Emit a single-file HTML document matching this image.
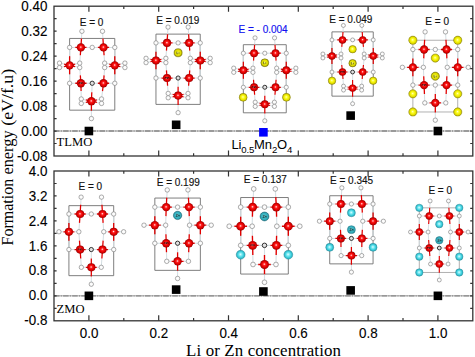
<!DOCTYPE html><html><head><meta charset="utf-8"><style>html,body{margin:0;padding:0;background:#fff;overflow:hidden;}svg{display:block;}</style></head><body><svg width="475" height="357" viewBox="0 0 475 357">
<defs>
<radialGradient id="gMn" cx="0.5" cy="0.5" r="0.5" fx="0.48" fy="0.46">
 <stop offset="0" stop-color="#fff0f0"/><stop offset="0.12" stop-color="#ff9a9a"/><stop offset="0.3" stop-color="#ff2020"/>
 <stop offset="0.65" stop-color="#e40000"/><stop offset="0.88" stop-color="#bc0000"/><stop offset="1" stop-color="#8a0000"/></radialGradient>
<radialGradient id="gO" cx="0.5" cy="0.5" r="0.5">
 <stop offset="0" stop-color="#ffffff"/><stop offset="0.6" stop-color="#fafafa"/><stop offset="1" stop-color="#dcdcdc"/></radialGradient>
<radialGradient id="gLi" cx="0.5" cy="0.5" r="0.5" fx="0.47" fy="0.45">
 <stop offset="0" stop-color="#ffffd0"/><stop offset="0.25" stop-color="#ffff40"/>
 <stop offset="0.6" stop-color="#f0ee00"/><stop offset="0.85" stop-color="#d8d200"/><stop offset="1" stop-color="#9a9400"/></radialGradient>
<radialGradient id="gLl" cx="0.5" cy="0.5" r="0.5" fx="0.47" fy="0.45">
 <stop offset="0" stop-color="#f0f080"/><stop offset="0.3" stop-color="#ecea10"/>
 <stop offset="0.7" stop-color="#dedc00"/><stop offset="0.88" stop-color="#b8b400"/><stop offset="1" stop-color="#807a00"/></radialGradient>
<radialGradient id="gZn" cx="0.5" cy="0.5" r="0.5" fx="0.47" fy="0.45">
 <stop offset="0" stop-color="#e8ffff"/><stop offset="0.25" stop-color="#90f0f8"/>
 <stop offset="0.6" stop-color="#48d6e2"/><stop offset="0.85" stop-color="#2cbccc"/><stop offset="1" stop-color="#14909e"/></radialGradient>
<radialGradient id="gZd" cx="0.5" cy="0.5" r="0.5" fx="0.45" fy="0.42">
 <stop offset="0" stop-color="#b0f4f8"/><stop offset="0.3" stop-color="#48c0cc"/>
 <stop offset="0.8" stop-color="#30a8b6"/><stop offset="1" stop-color="#187888"/></radialGradient>
</defs>
<rect width="475" height="357" fill="#fff"/>
<g><path d="M69.61 38.44H114.79M69.61 38.44V110.16H114.79V38.44" fill="none" stroke="#707070" stroke-width="0.9"/><path d="M81.46 38.52L81.92 31.26M75.26 47.40L69.61 47.40M86.55 47.40L92.20 47.40M80.32 55.24L79.74 63.09M102.94 38.52L102.48 31.26M109.14 47.40L114.79 47.40M97.85 47.40L92.20 47.40M104.08 55.24L104.66 63.09M69.61 56.36L69.61 47.40M69.61 74.29L69.61 83.26M64.04 64.10L59.48 63.09M64.04 66.56L59.48 67.57M75.18 64.10L79.74 63.09M75.18 66.56L79.74 67.57M114.79 56.36L114.79 47.40M114.79 74.29L114.79 83.26M109.22 64.10L104.66 63.09M109.22 66.56L104.66 67.57M120.36 64.10L124.92 63.09M120.36 66.56L124.92 67.57M75.26 83.26L69.61 83.26M86.55 83.26L92.20 83.26M80.32 75.42L79.74 67.57M81.09 91.10L81.27 98.95M109.14 83.26L114.79 83.26M97.85 83.26L92.20 83.26M104.08 75.42L104.66 67.57M102.51 91.10L101.53 98.95M91.80 92.22L92.20 83.26M91.40 110.76L91.40 118.58M85.83 99.96L81.27 98.95M85.83 102.42L81.27 103.43M96.97 99.96L101.53 98.95M96.97 102.42L101.53 103.43" stroke="#d4dee2" stroke-width="1.05" fill="none"/><path d="M80.90 47.40L81.46 38.52M80.90 47.40L75.26 47.40M80.90 47.40L86.55 47.40M80.90 47.40L80.32 55.24M103.50 47.40L102.94 38.52M103.50 47.40L109.14 47.40M103.50 47.40L97.85 47.40M103.50 47.40L104.08 55.24M69.61 65.33L69.61 56.36M69.61 65.33L69.61 74.29M69.61 65.33L64.04 64.10M69.61 65.33L64.04 66.56M69.61 65.33L75.18 64.10M69.61 65.33L75.18 66.56M114.79 65.33L114.79 56.36M114.79 65.33L114.79 74.29M114.79 65.33L109.22 64.10M114.79 65.33L109.22 66.56M114.79 65.33L120.36 64.10M114.79 65.33L120.36 66.56M80.90 83.26L75.26 83.26M80.90 83.26L86.55 83.26M80.90 83.26L80.32 75.42M80.90 83.26L81.09 91.10M103.50 83.26L109.14 83.26M103.50 83.26L97.85 83.26M103.50 83.26L104.08 75.42M103.50 83.26L102.51 91.10M91.40 101.19L91.80 92.22M91.40 101.19L91.40 110.76M91.40 101.19L85.83 99.96M91.40 101.19L85.83 102.42M91.40 101.19L96.97 99.96M91.40 101.19L96.97 102.42" stroke="#e00000" stroke-width="1.29" fill="none"/><circle cx="81.92" cy="31.26" r="2.24" fill="url(#gO)" stroke="#7a7a7a" stroke-width="0.55"/><circle cx="102.48" cy="31.26" r="2.24" fill="url(#gO)" stroke="#7a7a7a" stroke-width="0.55"/><circle cx="69.61" cy="47.40" r="2.24" fill="url(#gO)" stroke="#7a7a7a" stroke-width="0.55"/><circle cx="92.20" cy="47.40" r="2.24" fill="url(#gO)" stroke="#7a7a7a" stroke-width="0.55"/><circle cx="114.79" cy="47.40" r="2.24" fill="url(#gO)" stroke="#7a7a7a" stroke-width="0.55"/><circle cx="69.61" cy="83.26" r="2.24" fill="url(#gO)" stroke="#7a7a7a" stroke-width="0.55"/><circle cx="114.79" cy="83.26" r="2.24" fill="url(#gO)" stroke="#7a7a7a" stroke-width="0.55"/><circle cx="91.40" cy="118.58" r="2.24" fill="url(#gO)" stroke="#7a7a7a" stroke-width="0.55"/><circle cx="59.48" cy="63.09" r="2.24" fill="url(#gO)" stroke="#7a7a7a" stroke-width="0.55"/><circle cx="59.48" cy="67.57" r="2.24" fill="url(#gO)" stroke="#7a7a7a" stroke-width="0.55"/><circle cx="79.74" cy="63.09" r="2.24" fill="url(#gO)" stroke="#7a7a7a" stroke-width="0.55"/><circle cx="79.74" cy="67.57" r="2.24" fill="url(#gO)" stroke="#7a7a7a" stroke-width="0.55"/><circle cx="104.66" cy="63.09" r="2.24" fill="url(#gO)" stroke="#7a7a7a" stroke-width="0.55"/><circle cx="104.66" cy="67.57" r="2.24" fill="url(#gO)" stroke="#7a7a7a" stroke-width="0.55"/><circle cx="124.92" cy="63.09" r="2.24" fill="url(#gO)" stroke="#7a7a7a" stroke-width="0.55"/><circle cx="124.92" cy="67.57" r="2.24" fill="url(#gO)" stroke="#7a7a7a" stroke-width="0.55"/><circle cx="81.27" cy="98.95" r="2.24" fill="url(#gO)" stroke="#7a7a7a" stroke-width="0.55"/><circle cx="81.27" cy="103.43" r="2.24" fill="url(#gO)" stroke="#7a7a7a" stroke-width="0.55"/><circle cx="101.53" cy="98.95" r="2.24" fill="url(#gO)" stroke="#7a7a7a" stroke-width="0.55"/><circle cx="101.53" cy="103.43" r="2.24" fill="url(#gO)" stroke="#7a7a7a" stroke-width="0.55"/><circle cx="92.20" cy="83.26" r="2.13" fill="#e0e0e0" stroke="#202020" stroke-width="0.9"/><circle cx="80.90" cy="47.40" r="4.16" fill="url(#gMn)"/><circle cx="103.50" cy="47.40" r="4.16" fill="url(#gMn)"/><circle cx="69.61" cy="65.33" r="4.16" fill="url(#gMn)"/><circle cx="114.79" cy="65.33" r="4.16" fill="url(#gMn)"/><circle cx="80.90" cy="83.26" r="4.16" fill="url(#gMn)"/><circle cx="103.50" cy="83.26" r="4.16" fill="url(#gMn)"/><circle cx="91.40" cy="101.19" r="4.16" fill="url(#gMn)"/><path d="M78.70 84.06l0.7 -1.8 0.7 1.2 0.7 -1.2 0.7 1.8M81.30 84.06v-1.4h1.6v1.4" stroke="#300000" stroke-width="0.6" fill="none"/></g>
<g><path d="M155.96 34.11H200.24M155.96 34.11V104.40H200.24V34.11" fill="none" stroke="#707070" stroke-width="0.9"/><path d="M167.58 34.20L168.03 27.09M161.50 42.90L155.96 42.90M172.57 42.90L178.10 42.90M166.46 50.59L165.89 58.27M188.62 34.20L188.17 27.09M194.70 42.90L200.24 42.90M183.63 42.90L178.10 42.90M189.74 50.59L190.31 58.27M155.96 51.69L155.96 42.90M155.96 69.25L155.96 78.04M150.50 59.26L146.03 58.27M150.50 61.68L146.03 62.67M161.42 59.26L165.89 58.27M161.42 61.68L165.89 62.67M200.24 51.69L200.24 42.90M200.24 69.25L200.24 78.04M194.78 59.26L190.31 58.27M194.78 61.68L190.31 62.67M205.70 59.26L210.17 58.27M205.70 61.68L210.17 62.67M161.50 78.04L155.96 78.04M172.57 78.04L178.10 78.04M166.46 70.35L165.89 62.67M167.60 85.73L168.17 93.41M194.70 78.04L200.24 78.04M183.63 78.04L178.10 78.04M189.74 70.35L190.31 62.67M188.60 85.73L188.03 93.41M178.10 86.82L178.10 78.04M178.10 104.98L178.10 112.65M172.64 94.40L168.17 93.41M172.64 96.82L168.17 97.81M183.56 94.40L188.03 93.41M183.56 96.82L188.03 97.81" stroke="#d4dee2" stroke-width="1.03" fill="none"/><path d="M167.03 42.90L167.58 34.20M167.03 42.90L161.50 42.90M167.03 42.90L172.57 42.90M167.03 42.90L166.46 50.59M189.17 42.90L188.62 34.20M189.17 42.90L194.70 42.90M189.17 42.90L183.63 42.90M189.17 42.90L189.74 50.59M155.96 60.47L155.96 51.69M155.96 60.47L155.96 69.25M155.96 60.47L150.50 59.26M155.96 60.47L150.50 61.68M155.96 60.47L161.42 59.26M155.96 60.47L161.42 61.68M200.24 60.47L200.24 51.69M200.24 60.47L200.24 69.25M200.24 60.47L194.78 59.26M200.24 60.47L194.78 61.68M200.24 60.47L205.70 59.26M200.24 60.47L205.70 61.68M167.03 78.04L161.50 78.04M167.03 78.04L172.57 78.04M167.03 78.04L166.46 70.35M167.03 78.04L167.60 85.73M189.17 78.04L194.70 78.04M189.17 78.04L183.63 78.04M189.17 78.04L189.74 70.35M189.17 78.04L188.60 85.73M178.10 95.61L178.10 86.82M178.10 95.61L178.10 104.98M178.10 95.61L172.64 94.40M178.10 95.61L172.64 96.82M178.10 95.61L183.56 94.40M178.10 95.61L183.56 96.82" stroke="#e00000" stroke-width="1.27" fill="none"/><circle cx="168.03" cy="27.09" r="2.20" fill="url(#gO)" stroke="#7a7a7a" stroke-width="0.55"/><circle cx="188.17" cy="27.09" r="2.20" fill="url(#gO)" stroke="#7a7a7a" stroke-width="0.55"/><circle cx="155.96" cy="42.90" r="2.20" fill="url(#gO)" stroke="#7a7a7a" stroke-width="0.55"/><circle cx="178.10" cy="42.90" r="2.20" fill="url(#gO)" stroke="#7a7a7a" stroke-width="0.55"/><circle cx="200.24" cy="42.90" r="2.20" fill="url(#gO)" stroke="#7a7a7a" stroke-width="0.55"/><circle cx="155.96" cy="78.04" r="2.20" fill="url(#gO)" stroke="#7a7a7a" stroke-width="0.55"/><circle cx="200.24" cy="78.04" r="2.20" fill="url(#gO)" stroke="#7a7a7a" stroke-width="0.55"/><circle cx="178.10" cy="112.65" r="2.20" fill="url(#gO)" stroke="#7a7a7a" stroke-width="0.55"/><circle cx="146.03" cy="58.27" r="2.20" fill="url(#gO)" stroke="#7a7a7a" stroke-width="0.55"/><circle cx="146.03" cy="62.67" r="2.20" fill="url(#gO)" stroke="#7a7a7a" stroke-width="0.55"/><circle cx="165.89" cy="58.27" r="2.20" fill="url(#gO)" stroke="#7a7a7a" stroke-width="0.55"/><circle cx="165.89" cy="62.67" r="2.20" fill="url(#gO)" stroke="#7a7a7a" stroke-width="0.55"/><circle cx="190.31" cy="58.27" r="2.20" fill="url(#gO)" stroke="#7a7a7a" stroke-width="0.55"/><circle cx="190.31" cy="62.67" r="2.20" fill="url(#gO)" stroke="#7a7a7a" stroke-width="0.55"/><circle cx="210.17" cy="58.27" r="2.20" fill="url(#gO)" stroke="#7a7a7a" stroke-width="0.55"/><circle cx="210.17" cy="62.67" r="2.20" fill="url(#gO)" stroke="#7a7a7a" stroke-width="0.55"/><circle cx="168.17" cy="93.41" r="2.20" fill="url(#gO)" stroke="#7a7a7a" stroke-width="0.55"/><circle cx="168.17" cy="97.81" r="2.20" fill="url(#gO)" stroke="#7a7a7a" stroke-width="0.55"/><circle cx="188.03" cy="93.41" r="2.20" fill="url(#gO)" stroke="#7a7a7a" stroke-width="0.55"/><circle cx="188.03" cy="97.81" r="2.20" fill="url(#gO)" stroke="#7a7a7a" stroke-width="0.55"/><circle cx="178.10" cy="78.04" r="2.09" fill="#e0e0e0" stroke="#202020" stroke-width="0.9"/><circle cx="167.03" cy="42.90" r="4.08" fill="url(#gMn)"/><circle cx="189.17" cy="42.90" r="4.08" fill="url(#gMn)"/><circle cx="155.96" cy="60.47" r="4.08" fill="url(#gMn)"/><circle cx="200.24" cy="60.47" r="4.08" fill="url(#gMn)"/><circle cx="167.03" cy="78.04" r="4.08" fill="url(#gMn)"/><circle cx="189.17" cy="78.04" r="4.08" fill="url(#gMn)"/><circle cx="178.10" cy="95.61" r="4.08" fill="url(#gMn)"/><path d="M164.83 78.84l0.7 -1.8 0.7 1.2 0.7 -1.2 0.7 1.8M167.43 78.84v-1.4h1.6v1.4" stroke="#300000" stroke-width="0.6" fill="none"/><circle cx="178.10" cy="52.74" r="4.08" fill="url(#gLl)" stroke="#7a7400" stroke-width="0.5"/><path d="M176.80 51.54v2.3h1M179.00 52.34v1.5" stroke="#5a5a30" stroke-width="0.7" fill="none"/></g>
<g><path d="M243.34 44.69H286.26M243.34 44.69V112.81H286.26V44.69" fill="none" stroke="#707070" stroke-width="0.9"/><path d="M254.60 44.77L255.04 37.87M248.71 53.20L243.34 53.20M259.44 53.20L264.80 53.20M253.52 60.65L252.96 68.10M275.00 44.77L274.56 37.87M280.89 53.20L286.26 53.20M270.16 53.20L264.80 53.20M276.08 60.65L276.64 68.10M243.34 61.72L243.34 53.20M243.34 78.75L243.34 87.26M238.05 69.06L233.72 68.10M238.05 71.40L233.72 72.36M248.63 69.06L252.96 68.10M248.63 71.40L252.96 72.36M286.26 61.72L286.26 53.20M286.26 78.75L286.26 87.26M280.97 69.06L276.64 68.10M280.97 71.40L276.64 72.36M291.55 69.06L295.88 68.10M291.55 71.40L295.88 72.36M248.71 87.26L243.34 87.26M259.44 87.26L264.80 87.26M253.52 79.81L252.96 72.36M254.62 94.71L255.18 102.16M280.89 87.26L286.26 87.26M270.16 87.26L264.80 87.26M276.08 79.81L276.64 72.36M274.98 94.71L274.42 102.16M264.80 95.78L264.80 87.26M264.80 113.38L264.80 120.81M259.51 103.12L255.18 102.16M259.51 105.46L255.18 106.42M270.09 103.12L274.42 102.16M270.09 105.46L274.42 106.42" stroke="#d4dee2" stroke-width="1.00" fill="none"/><path d="M254.07 53.20L254.60 44.77M254.07 53.20L248.71 53.20M254.07 53.20L259.44 53.20M254.07 53.20L253.52 60.65M275.53 53.20L275.00 44.77M275.53 53.20L280.89 53.20M275.53 53.20L270.16 53.20M275.53 53.20L276.08 60.65M243.34 70.23L243.34 61.72M243.34 70.23L243.34 78.75M243.34 70.23L238.05 69.06M243.34 70.23L238.05 71.40M243.34 70.23L248.63 69.06M243.34 70.23L248.63 71.40M286.26 70.23L286.26 61.72M286.26 70.23L286.26 78.75M286.26 70.23L280.97 69.06M286.26 70.23L280.97 71.40M286.26 70.23L291.55 69.06M286.26 70.23L291.55 71.40M254.07 87.26L248.71 87.26M254.07 87.26L259.44 87.26M254.07 87.26L253.52 79.81M254.07 87.26L254.62 94.71M275.53 87.26L280.89 87.26M275.53 87.26L270.16 87.26M275.53 87.26L276.08 79.81M275.53 87.26L274.98 94.71M264.80 104.29L264.80 95.78M264.80 104.29L264.80 113.38M264.80 104.29L259.51 103.12M264.80 104.29L259.51 105.46M264.80 104.29L270.09 103.12M264.80 104.29L270.09 105.46" stroke="#e00000" stroke-width="1.23" fill="none"/><circle cx="255.04" cy="37.87" r="2.13" fill="url(#gO)" stroke="#7a7a7a" stroke-width="0.55"/><circle cx="274.56" cy="37.87" r="2.13" fill="url(#gO)" stroke="#7a7a7a" stroke-width="0.55"/><circle cx="243.34" cy="53.20" r="2.13" fill="url(#gO)" stroke="#7a7a7a" stroke-width="0.55"/><circle cx="264.80" cy="53.20" r="2.13" fill="url(#gO)" stroke="#7a7a7a" stroke-width="0.55"/><circle cx="286.26" cy="53.20" r="2.13" fill="url(#gO)" stroke="#7a7a7a" stroke-width="0.55"/><circle cx="243.34" cy="87.26" r="2.13" fill="url(#gO)" stroke="#7a7a7a" stroke-width="0.55"/><circle cx="286.26" cy="87.26" r="2.13" fill="url(#gO)" stroke="#7a7a7a" stroke-width="0.55"/><circle cx="264.80" cy="120.81" r="2.13" fill="url(#gO)" stroke="#7a7a7a" stroke-width="0.55"/><circle cx="233.72" cy="68.10" r="2.13" fill="url(#gO)" stroke="#7a7a7a" stroke-width="0.55"/><circle cx="233.72" cy="72.36" r="2.13" fill="url(#gO)" stroke="#7a7a7a" stroke-width="0.55"/><circle cx="252.96" cy="68.10" r="2.13" fill="url(#gO)" stroke="#7a7a7a" stroke-width="0.55"/><circle cx="252.96" cy="72.36" r="2.13" fill="url(#gO)" stroke="#7a7a7a" stroke-width="0.55"/><circle cx="276.64" cy="68.10" r="2.13" fill="url(#gO)" stroke="#7a7a7a" stroke-width="0.55"/><circle cx="276.64" cy="72.36" r="2.13" fill="url(#gO)" stroke="#7a7a7a" stroke-width="0.55"/><circle cx="295.88" cy="68.10" r="2.13" fill="url(#gO)" stroke="#7a7a7a" stroke-width="0.55"/><circle cx="295.88" cy="72.36" r="2.13" fill="url(#gO)" stroke="#7a7a7a" stroke-width="0.55"/><circle cx="255.18" cy="102.16" r="2.13" fill="url(#gO)" stroke="#7a7a7a" stroke-width="0.55"/><circle cx="255.18" cy="106.42" r="2.13" fill="url(#gO)" stroke="#7a7a7a" stroke-width="0.55"/><circle cx="274.42" cy="102.16" r="2.13" fill="url(#gO)" stroke="#7a7a7a" stroke-width="0.55"/><circle cx="274.42" cy="106.42" r="2.13" fill="url(#gO)" stroke="#7a7a7a" stroke-width="0.55"/><circle cx="264.80" cy="87.26" r="2.02" fill="#e0e0e0" stroke="#202020" stroke-width="0.9"/><circle cx="254.07" cy="53.20" r="3.95" fill="url(#gMn)"/><circle cx="275.53" cy="53.20" r="3.95" fill="url(#gMn)"/><circle cx="243.34" cy="70.23" r="3.95" fill="url(#gMn)"/><circle cx="286.26" cy="70.23" r="3.95" fill="url(#gMn)"/><circle cx="254.07" cy="87.26" r="3.95" fill="url(#gMn)"/><circle cx="275.53" cy="87.26" r="3.95" fill="url(#gMn)"/><circle cx="264.80" cy="104.29" r="3.95" fill="url(#gMn)"/><path d="M251.87 88.06l0.7 -1.8 0.7 1.2 0.7 -1.2 0.7 1.8M254.47 88.06v-1.4h1.6v1.4" stroke="#300000" stroke-width="0.6" fill="none"/><circle cx="264.80" cy="62.74" r="3.95" fill="url(#gLl)" stroke="#7a7400" stroke-width="0.5"/><path d="M263.50 61.54v2.3h1M265.70 62.34v1.5" stroke="#5a5a30" stroke-width="0.7" fill="none"/><circle cx="243.17" cy="97.31" r="3.95" fill="url(#gLi)" stroke="#908800" stroke-width="0.5"/><circle cx="286.43" cy="97.31" r="3.95" fill="url(#gLi)" stroke="#908800" stroke-width="0.5"/></g>
<g><path d="M331.95 31.86H373.25M331.95 31.86V96.15H373.25V31.86" fill="none" stroke="#707070" stroke-width="0.9"/><path d="M342.98 31.95L343.39 25.44M337.21 39.90L331.95 39.90M347.54 39.90L352.60 39.90M341.75 46.93L341.03 53.96M362.22 31.95L361.81 25.44M367.99 39.90L373.25 39.90M357.66 39.90L352.60 39.90M363.45 46.93L364.17 53.96M331.95 47.94L331.95 39.90M331.95 64.00L331.95 72.04M326.96 54.87L322.87 53.96M326.96 57.07L322.87 57.98M336.94 54.87L341.03 53.96M336.94 57.07L341.03 57.98M373.25 47.94L373.25 39.90M373.25 64.00L373.25 72.04M368.26 54.87L364.17 53.96M368.26 57.07L364.17 57.98M378.24 54.87L382.33 53.96M378.24 57.07L382.33 57.98M337.21 72.04L331.95 72.04M347.54 72.04L352.60 72.04M341.75 65.01L341.03 57.98M343.00 79.07L343.52 86.10M367.99 72.04L373.25 72.04M357.66 72.04L352.60 72.04M363.45 65.01L364.17 57.98M362.20 79.07L361.68 86.10M352.60 80.07L352.60 72.04M352.60 96.68L352.60 103.70M347.61 87.01L343.52 86.10M347.61 89.21L343.52 90.12M357.59 87.01L361.68 86.10M357.59 89.21L361.68 90.12" stroke="#d4dee2" stroke-width="0.94" fill="none"/><path d="M342.48 39.90L342.98 31.95M342.48 39.90L337.21 39.90M342.48 39.90L347.54 39.90M342.48 39.90L341.75 46.93M362.72 39.90L362.22 31.95M362.72 39.90L367.99 39.90M362.72 39.90L357.66 39.90M362.72 39.90L363.45 46.93M331.95 55.97L331.95 47.94M331.95 55.97L331.95 64.00M331.95 55.97L326.96 54.87M331.95 55.97L326.96 57.07M331.95 55.97L336.94 54.87M331.95 55.97L336.94 57.07M373.25 55.97L373.25 47.94M373.25 55.97L373.25 64.00M373.25 55.97L368.26 54.87M373.25 55.97L368.26 57.07M373.25 55.97L378.24 54.87M373.25 55.97L378.24 57.07M342.48 72.04L337.21 72.04M342.48 72.04L347.54 72.04M342.48 72.04L341.75 65.01M342.48 72.04L343.00 79.07M362.72 72.04L367.99 72.04M362.72 72.04L357.66 72.04M362.72 72.04L363.45 65.01M362.72 72.04L362.20 79.07M352.60 88.11L352.60 80.07M352.60 88.11L352.60 96.68M352.60 88.11L347.61 87.01M352.60 88.11L347.61 89.21M352.60 88.11L357.59 87.01M352.60 88.11L357.59 89.21" stroke="#e00000" stroke-width="1.16" fill="none"/><circle cx="343.39" cy="25.44" r="2.01" fill="url(#gO)" stroke="#7a7a7a" stroke-width="0.55"/><circle cx="361.81" cy="25.44" r="2.01" fill="url(#gO)" stroke="#7a7a7a" stroke-width="0.55"/><circle cx="331.95" cy="39.90" r="2.01" fill="url(#gO)" stroke="#7a7a7a" stroke-width="0.55"/><circle cx="352.60" cy="39.90" r="2.01" fill="url(#gO)" stroke="#7a7a7a" stroke-width="0.55"/><circle cx="373.25" cy="39.90" r="2.01" fill="url(#gO)" stroke="#7a7a7a" stroke-width="0.55"/><circle cx="331.95" cy="72.04" r="2.01" fill="url(#gO)" stroke="#7a7a7a" stroke-width="0.55"/><circle cx="373.25" cy="72.04" r="2.01" fill="url(#gO)" stroke="#7a7a7a" stroke-width="0.55"/><circle cx="352.60" cy="103.70" r="2.01" fill="url(#gO)" stroke="#7a7a7a" stroke-width="0.55"/><circle cx="322.87" cy="53.96" r="2.01" fill="url(#gO)" stroke="#7a7a7a" stroke-width="0.55"/><circle cx="322.87" cy="57.98" r="2.01" fill="url(#gO)" stroke="#7a7a7a" stroke-width="0.55"/><circle cx="341.03" cy="53.96" r="2.01" fill="url(#gO)" stroke="#7a7a7a" stroke-width="0.55"/><circle cx="341.03" cy="57.98" r="2.01" fill="url(#gO)" stroke="#7a7a7a" stroke-width="0.55"/><circle cx="364.17" cy="53.96" r="2.01" fill="url(#gO)" stroke="#7a7a7a" stroke-width="0.55"/><circle cx="364.17" cy="57.98" r="2.01" fill="url(#gO)" stroke="#7a7a7a" stroke-width="0.55"/><circle cx="382.33" cy="53.96" r="2.01" fill="url(#gO)" stroke="#7a7a7a" stroke-width="0.55"/><circle cx="382.33" cy="57.98" r="2.01" fill="url(#gO)" stroke="#7a7a7a" stroke-width="0.55"/><circle cx="343.52" cy="86.10" r="2.01" fill="url(#gO)" stroke="#7a7a7a" stroke-width="0.55"/><circle cx="343.52" cy="90.12" r="2.01" fill="url(#gO)" stroke="#7a7a7a" stroke-width="0.55"/><circle cx="361.68" cy="86.10" r="2.01" fill="url(#gO)" stroke="#7a7a7a" stroke-width="0.55"/><circle cx="361.68" cy="90.12" r="2.01" fill="url(#gO)" stroke="#7a7a7a" stroke-width="0.55"/><circle cx="352.60" cy="72.04" r="1.91" fill="#e0e0e0" stroke="#202020" stroke-width="0.9"/><circle cx="342.48" cy="39.90" r="3.73" fill="url(#gMn)"/><circle cx="362.72" cy="39.90" r="3.73" fill="url(#gMn)"/><circle cx="331.95" cy="55.97" r="3.73" fill="url(#gMn)"/><circle cx="373.25" cy="55.97" r="3.73" fill="url(#gMn)"/><circle cx="342.48" cy="72.04" r="3.73" fill="url(#gMn)"/><circle cx="362.72" cy="72.04" r="3.73" fill="url(#gMn)"/><circle cx="352.60" cy="88.11" r="3.73" fill="url(#gMn)"/><path d="M340.28 72.84l0.7 -1.8 0.7 1.2 0.7 -1.2 0.7 1.8M342.88 72.84v-1.4h1.6v1.4" stroke="#300000" stroke-width="0.6" fill="none"/><circle cx="352.60" cy="49.22" r="3.73" fill="url(#gLi)" stroke="#908800" stroke-width="0.5"/><circle cx="352.60" cy="63.20" r="3.73" fill="url(#gLl)" stroke="#7a7400" stroke-width="0.5"/><path d="M351.30 62.00v2.3h1M353.50 62.80v1.5" stroke="#5a5a30" stroke-width="0.7" fill="none"/><circle cx="332.03" cy="80.72" r="3.73" fill="url(#gLi)" stroke="#908800" stroke-width="0.5"/><circle cx="373.17" cy="80.72" r="3.73" fill="url(#gLi)" stroke="#908800" stroke-width="0.5"/></g>
<g><path d="M412.87 40.24H457.73M412.87 40.24V111.98H457.73V40.24" fill="none" stroke="#a8a8a8" stroke-width="0.9"/><path d="M424.64 39.81L425.10 31.88M418.48 49.50L412.87 49.50M429.69 49.50L435.30 49.50M423.73 58.40L423.37 67.30M445.96 39.81L445.50 31.88M452.12 49.50L457.73 49.50M440.91 49.50L435.30 49.50M446.87 58.40L447.23 67.30M412.87 58.40L412.87 49.50M412.87 76.20L412.87 85.10M407.10 67.30L402.37 67.30M418.65 67.30L423.37 67.30M457.73 58.40L457.73 49.50M457.73 76.20L457.73 85.10M451.95 67.30L447.23 67.30M463.50 67.30L468.23 67.30M418.48 85.10L412.87 85.10M429.69 85.10L435.30 85.10M423.73 76.20L423.37 67.30M424.44 94.00L424.80 102.90M452.12 85.10L457.73 85.10M440.91 85.10L435.30 85.10M446.87 76.20L447.23 67.30M446.16 94.00L445.80 102.90M435.30 94.00L435.30 85.10M435.30 112.40L435.30 120.17M429.52 102.90L424.80 102.90M441.08 102.90L445.80 102.90" stroke="#d4dee2" stroke-width="1.04" fill="none"/><path d="M424.09 49.50L424.64 39.81M424.09 49.50L418.48 49.50M424.09 49.50L429.69 49.50M424.09 49.50L423.73 58.40M446.51 49.50L445.96 39.81M446.51 49.50L452.12 49.50M446.51 49.50L440.91 49.50M446.51 49.50L446.87 58.40M412.87 67.30L412.87 58.40M412.87 67.30L412.87 76.20M412.87 67.30L407.10 67.30M412.87 67.30L418.65 67.30M457.73 67.30L457.73 58.40M457.73 67.30L457.73 76.20M457.73 67.30L451.95 67.30M457.73 67.30L463.50 67.30M424.09 85.10L418.48 85.10M424.09 85.10L429.69 85.10M424.09 85.10L423.73 76.20M424.09 85.10L424.44 94.00M446.51 85.10L452.12 85.10M446.51 85.10L440.91 85.10M446.51 85.10L446.87 76.20M446.51 85.10L446.16 94.00M435.30 102.90L435.30 94.00M435.30 102.90L435.30 112.40M435.30 102.90L429.52 102.90M435.30 102.90L441.08 102.90" stroke="#e00000" stroke-width="1.28" fill="none"/><circle cx="425.10" cy="31.88" r="2.23" fill="url(#gO)" stroke="#7a7a7a" stroke-width="0.55"/><circle cx="445.50" cy="31.88" r="2.23" fill="url(#gO)" stroke="#7a7a7a" stroke-width="0.55"/><circle cx="412.87" cy="49.50" r="2.23" fill="url(#gO)" stroke="#7a7a7a" stroke-width="0.55"/><circle cx="435.30" cy="49.50" r="2.23" fill="url(#gO)" stroke="#7a7a7a" stroke-width="0.55"/><circle cx="457.73" cy="49.50" r="2.23" fill="url(#gO)" stroke="#7a7a7a" stroke-width="0.55"/><circle cx="412.87" cy="85.10" r="2.23" fill="url(#gO)" stroke="#7a7a7a" stroke-width="0.55"/><circle cx="457.73" cy="85.10" r="2.23" fill="url(#gO)" stroke="#7a7a7a" stroke-width="0.55"/><circle cx="435.30" cy="120.17" r="2.23" fill="url(#gO)" stroke="#7a7a7a" stroke-width="0.55"/><circle cx="402.37" cy="67.30" r="2.23" fill="url(#gO)" stroke="#7a7a7a" stroke-width="0.55"/><circle cx="423.37" cy="67.30" r="2.23" fill="url(#gO)" stroke="#7a7a7a" stroke-width="0.55"/><circle cx="447.23" cy="67.30" r="2.23" fill="url(#gO)" stroke="#7a7a7a" stroke-width="0.55"/><circle cx="468.23" cy="67.30" r="2.23" fill="url(#gO)" stroke="#7a7a7a" stroke-width="0.55"/><circle cx="424.80" cy="102.90" r="2.23" fill="url(#gO)" stroke="#7a7a7a" stroke-width="0.55"/><circle cx="445.80" cy="102.90" r="2.23" fill="url(#gO)" stroke="#7a7a7a" stroke-width="0.55"/><circle cx="435.30" cy="85.10" r="2.23" fill="url(#gO)" stroke="#7a7a7a" stroke-width="0.55"/><circle cx="424.09" cy="49.50" r="4.13" fill="url(#gMn)"/><circle cx="446.51" cy="49.50" r="4.13" fill="url(#gMn)"/><circle cx="412.87" cy="67.30" r="4.13" fill="url(#gMn)"/><circle cx="457.73" cy="67.30" r="4.13" fill="url(#gMn)"/><circle cx="424.09" cy="85.10" r="4.13" fill="url(#gMn)"/><circle cx="446.51" cy="85.10" r="4.13" fill="url(#gMn)"/><circle cx="435.30" cy="102.90" r="4.13" fill="url(#gMn)"/><path d="M421.89 85.90l0.7 -1.8 0.7 1.2 0.7 -1.2 0.7 1.8M424.49 85.90v-1.4h1.6v1.4" stroke="#300000" stroke-width="0.6" fill="none"/><circle cx="412.87" cy="40.24" r="4.13" fill="url(#gLi)" stroke="#908800" stroke-width="0.5"/><circle cx="457.73" cy="40.24" r="4.13" fill="url(#gLi)" stroke="#908800" stroke-width="0.5"/><circle cx="435.30" cy="58.04" r="4.13" fill="url(#gLi)" stroke="#908800" stroke-width="0.5"/><circle cx="435.30" cy="76.20" r="4.13" fill="url(#gLl)" stroke="#7a7400" stroke-width="0.5"/><path d="M434.00 75.00v2.3h1M436.20 75.80v1.5" stroke="#5a5a30" stroke-width="0.7" fill="none"/><circle cx="412.87" cy="93.82" r="4.13" fill="url(#gLi)" stroke="#908800" stroke-width="0.5"/><circle cx="457.73" cy="93.82" r="4.13" fill="url(#gLi)" stroke="#908800" stroke-width="0.5"/><circle cx="412.87" cy="111.98" r="4.13" fill="url(#gLi)" stroke="#908800" stroke-width="0.5"/><circle cx="457.73" cy="111.98" r="4.13" fill="url(#gLi)" stroke="#908800" stroke-width="0.5"/></g>
<g><path d="M68.91 205.65H113.69M68.91 205.65V275.66H113.69V205.65" fill="none" stroke="#707070" stroke-width="0.9"/><path d="M80.66 204.72L81.11 197.12M74.51 214.00L68.91 214.00M85.70 214.00L91.30 214.00M79.48 222.88L78.86 231.77M101.94 204.72L101.49 197.12M108.09 214.00L113.69 214.00M96.90 214.00L91.30 214.00M103.12 222.88L103.74 231.77M68.91 222.88L68.91 214.00M68.91 240.66L68.91 249.54M63.44 231.77L58.96 231.77M74.38 231.77L78.86 231.77M113.69 222.88L113.69 214.00M113.69 240.66L113.69 249.54M108.22 231.77L103.74 231.77M119.16 231.77L123.64 231.77M74.51 249.54L68.91 249.54M85.70 249.54L91.30 249.54M79.48 240.66L78.86 231.77M80.73 258.43L81.35 267.31M108.09 249.54L113.69 249.54M96.90 249.54L91.30 249.54M103.12 240.66L103.74 231.77M101.87 258.43L101.25 267.31M91.30 258.43L91.30 249.54M91.30 276.59L91.30 284.19M85.83 267.31L81.35 267.31M96.77 267.31L101.25 267.31" stroke="#d4dee2" stroke-width="1.04" fill="none"/><path d="M80.10 214.00L80.66 204.72M80.10 214.00L74.51 214.00M80.10 214.00L85.70 214.00M80.10 214.00L79.48 222.88M102.50 214.00L101.94 204.72M102.50 214.00L108.09 214.00M102.50 214.00L96.90 214.00M102.50 214.00L103.12 222.88M68.91 231.77L68.91 222.88M68.91 231.77L68.91 240.66M68.91 231.77L63.44 231.77M68.91 231.77L74.38 231.77M113.69 231.77L113.69 222.88M113.69 231.77L113.69 240.66M113.69 231.77L108.22 231.77M113.69 231.77L119.16 231.77M80.10 249.54L74.51 249.54M80.10 249.54L85.70 249.54M80.10 249.54L79.48 240.66M80.10 249.54L80.73 258.43M102.50 249.54L108.09 249.54M102.50 249.54L96.90 249.54M102.50 249.54L103.12 240.66M102.50 249.54L101.87 258.43M91.30 267.31L91.30 258.43M91.30 267.31L91.30 276.59M91.30 267.31L85.83 267.31M91.30 267.31L96.77 267.31" stroke="#e00000" stroke-width="1.28" fill="none"/><circle cx="81.11" cy="197.12" r="2.22" fill="url(#gO)" stroke="#7a7a7a" stroke-width="0.55"/><circle cx="101.49" cy="197.12" r="2.22" fill="url(#gO)" stroke="#7a7a7a" stroke-width="0.55"/><circle cx="68.91" cy="214.00" r="2.22" fill="url(#gO)" stroke="#7a7a7a" stroke-width="0.55"/><circle cx="91.30" cy="214.00" r="2.22" fill="url(#gO)" stroke="#7a7a7a" stroke-width="0.55"/><circle cx="113.69" cy="214.00" r="2.22" fill="url(#gO)" stroke="#7a7a7a" stroke-width="0.55"/><circle cx="68.91" cy="249.54" r="2.22" fill="url(#gO)" stroke="#7a7a7a" stroke-width="0.55"/><circle cx="113.69" cy="249.54" r="2.22" fill="url(#gO)" stroke="#7a7a7a" stroke-width="0.55"/><circle cx="91.30" cy="284.19" r="2.22" fill="url(#gO)" stroke="#7a7a7a" stroke-width="0.55"/><circle cx="58.96" cy="231.77" r="2.22" fill="url(#gO)" stroke="#7a7a7a" stroke-width="0.55"/><circle cx="78.86" cy="231.77" r="2.22" fill="url(#gO)" stroke="#7a7a7a" stroke-width="0.55"/><circle cx="103.74" cy="231.77" r="2.22" fill="url(#gO)" stroke="#7a7a7a" stroke-width="0.55"/><circle cx="123.64" cy="231.77" r="2.22" fill="url(#gO)" stroke="#7a7a7a" stroke-width="0.55"/><circle cx="81.35" cy="267.31" r="2.22" fill="url(#gO)" stroke="#7a7a7a" stroke-width="0.55"/><circle cx="101.25" cy="267.31" r="2.22" fill="url(#gO)" stroke="#7a7a7a" stroke-width="0.55"/><circle cx="91.30" cy="249.54" r="2.11" fill="#e0e0e0" stroke="#202020" stroke-width="0.9"/><circle cx="80.10" cy="214.00" r="4.12" fill="url(#gMn)"/><circle cx="102.50" cy="214.00" r="4.12" fill="url(#gMn)"/><circle cx="68.91" cy="231.77" r="4.12" fill="url(#gMn)"/><circle cx="113.69" cy="231.77" r="4.12" fill="url(#gMn)"/><circle cx="80.10" cy="249.54" r="4.12" fill="url(#gMn)"/><circle cx="102.50" cy="249.54" r="4.12" fill="url(#gMn)"/><circle cx="91.30" cy="267.31" r="4.12" fill="url(#gMn)"/><path d="M77.90 250.34l0.7 -1.8 0.7 1.2 0.7 -1.2 0.7 1.8M80.50 250.34v-1.4h1.6v1.4" stroke="#300000" stroke-width="0.6" fill="none"/></g>
<g><path d="M154.83 198.06H200.37M154.83 198.06V270.35H200.37V198.06" fill="none" stroke="#707070" stroke-width="0.9"/><path d="M166.78 197.66L167.24 189.93M160.52 207.10L154.83 207.10M171.91 207.10L177.60 207.10M165.94 216.13L165.67 225.17M188.42 197.66L187.96 189.93M194.68 207.10L200.37 207.10M183.29 207.10L177.60 207.10M189.26 216.13L189.53 225.17M154.83 216.13L154.83 207.10M154.83 234.20L154.83 243.24M148.87 225.17L143.99 225.17M160.79 225.17L165.67 225.17M200.37 216.13L200.37 207.10M200.37 234.20L200.37 243.24M194.41 225.17L189.53 225.17M206.33 225.17L211.21 225.17M160.52 243.24L154.83 243.24M171.91 243.24L177.60 243.24M165.94 234.20L165.67 225.17M166.49 252.28L166.76 261.31M194.68 243.24L200.37 243.24M183.29 243.24L177.60 243.24M189.26 234.20L189.53 225.17M188.71 252.28L188.44 261.31M177.60 252.28L177.60 243.24M177.60 270.75L177.60 278.48M171.64 261.31L166.76 261.31M183.56 261.31L188.44 261.31" stroke="#d4dee2" stroke-width="1.06" fill="none"/><path d="M166.22 207.10L166.78 197.66M166.22 207.10L160.52 207.10M166.22 207.10L171.91 207.10M166.22 207.10L165.94 216.13M188.98 207.10L188.42 197.66M188.98 207.10L194.68 207.10M188.98 207.10L183.29 207.10M188.98 207.10L189.26 216.13M154.83 225.17L154.83 216.13M154.83 225.17L154.83 234.20M154.83 225.17L148.87 225.17M154.83 225.17L160.79 225.17M200.37 225.17L200.37 216.13M200.37 225.17L200.37 234.20M200.37 225.17L194.41 225.17M200.37 225.17L206.33 225.17M166.22 243.24L160.52 243.24M166.22 243.24L171.91 243.24M166.22 243.24L165.94 234.20M166.22 243.24L166.49 252.28M188.98 243.24L194.68 243.24M188.98 243.24L183.29 243.24M188.98 243.24L189.26 234.20M188.98 243.24L188.71 252.28M177.60 261.31L177.60 252.28M177.60 261.31L177.60 270.75M177.60 261.31L171.64 261.31M177.60 261.31L183.56 261.31" stroke="#e00000" stroke-width="1.30" fill="none"/><circle cx="167.24" cy="189.93" r="2.26" fill="url(#gO)" stroke="#7a7a7a" stroke-width="0.55"/><circle cx="187.96" cy="189.93" r="2.26" fill="url(#gO)" stroke="#7a7a7a" stroke-width="0.55"/><circle cx="154.83" cy="207.10" r="2.26" fill="url(#gO)" stroke="#7a7a7a" stroke-width="0.55"/><circle cx="177.60" cy="207.10" r="2.26" fill="url(#gO)" stroke="#7a7a7a" stroke-width="0.55"/><circle cx="200.37" cy="207.10" r="2.26" fill="url(#gO)" stroke="#7a7a7a" stroke-width="0.55"/><circle cx="154.83" cy="243.24" r="2.26" fill="url(#gO)" stroke="#7a7a7a" stroke-width="0.55"/><circle cx="200.37" cy="243.24" r="2.26" fill="url(#gO)" stroke="#7a7a7a" stroke-width="0.55"/><circle cx="177.60" cy="278.48" r="2.26" fill="url(#gO)" stroke="#7a7a7a" stroke-width="0.55"/><circle cx="143.99" cy="225.17" r="2.26" fill="url(#gO)" stroke="#7a7a7a" stroke-width="0.55"/><circle cx="165.67" cy="225.17" r="2.26" fill="url(#gO)" stroke="#7a7a7a" stroke-width="0.55"/><circle cx="189.53" cy="225.17" r="2.26" fill="url(#gO)" stroke="#7a7a7a" stroke-width="0.55"/><circle cx="211.21" cy="225.17" r="2.26" fill="url(#gO)" stroke="#7a7a7a" stroke-width="0.55"/><circle cx="166.76" cy="261.31" r="2.26" fill="url(#gO)" stroke="#7a7a7a" stroke-width="0.55"/><circle cx="188.44" cy="261.31" r="2.26" fill="url(#gO)" stroke="#7a7a7a" stroke-width="0.55"/><circle cx="177.60" cy="243.24" r="2.15" fill="#e0e0e0" stroke="#202020" stroke-width="0.9"/><circle cx="166.22" cy="207.10" r="4.19" fill="url(#gMn)"/><circle cx="188.98" cy="207.10" r="4.19" fill="url(#gMn)"/><circle cx="154.83" cy="225.17" r="4.19" fill="url(#gMn)"/><circle cx="200.37" cy="225.17" r="4.19" fill="url(#gMn)"/><circle cx="166.22" cy="243.24" r="4.19" fill="url(#gMn)"/><circle cx="188.98" cy="243.24" r="4.19" fill="url(#gMn)"/><circle cx="177.60" cy="261.31" r="4.19" fill="url(#gMn)"/><path d="M164.02 244.04l0.7 -1.8 0.7 1.2 0.7 -1.2 0.7 1.8M166.62 244.04v-1.4h1.6v1.4" stroke="#300000" stroke-width="0.6" fill="none"/><circle cx="177.60" cy="215.41" r="4.19" fill="url(#gZd)" stroke="#0e6070" stroke-width="0.5"/><path d="M176.00 214.41h1.6l-1.6 2h1.6M178.20 216.41v-1.2h1.2v1.2" stroke="#102020" stroke-width="0.6" fill="none"/></g>
<g><path d="M240.68 197.53H288.32M240.68 197.53V274.06H288.32V197.53" fill="none" stroke="#707070" stroke-width="0.9"/><path d="M253.23 197.10L253.71 188.93M246.66 207.10L240.68 207.10M258.57 207.10L264.50 207.10M252.40 216.66L252.16 226.23M275.77 197.10L275.29 188.93M282.34 207.10L288.32 207.10M270.43 207.10L264.50 207.10M276.60 216.66L276.84 226.23M240.68 216.66L240.68 207.10M240.68 235.79L240.68 245.36M234.37 226.23L229.21 226.23M247.00 226.23L252.16 226.23M288.32 216.66L288.32 207.10M288.32 235.79L288.32 245.36M282.00 226.23L276.84 226.23M294.63 226.23L299.79 226.23M246.66 245.36L240.68 245.36M258.57 245.36L264.50 245.36M252.40 235.79L252.16 226.23M252.83 254.93L253.02 264.49M282.34 245.36L288.32 245.36M270.43 245.36L264.50 245.36M276.60 235.79L276.84 226.23M276.17 254.93L275.98 264.49M264.50 254.93L264.50 245.36M264.50 274.27L264.50 282.28M258.19 264.49L253.02 264.49M270.81 264.49L275.98 264.49" stroke="#d4dee2" stroke-width="1.12" fill="none"/><path d="M252.64 207.10L253.23 197.10M252.64 207.10L246.66 207.10M252.64 207.10L258.57 207.10M252.64 207.10L252.40 216.66M276.36 207.10L275.77 197.10M276.36 207.10L282.34 207.10M276.36 207.10L270.43 207.10M276.36 207.10L276.60 216.66M240.68 226.23L240.68 216.66M240.68 226.23L240.68 235.79M240.68 226.23L234.37 226.23M240.68 226.23L247.00 226.23M288.32 226.23L288.32 216.66M288.32 226.23L288.32 235.79M288.32 226.23L282.00 226.23M288.32 226.23L294.63 226.23M252.64 245.36L246.66 245.36M252.64 245.36L258.57 245.36M252.64 245.36L252.40 235.79M252.64 245.36L252.83 254.93M276.36 245.36L282.34 245.36M276.36 245.36L270.43 245.36M276.36 245.36L276.60 235.79M276.36 245.36L276.17 254.93M264.50 264.49L264.50 254.93M264.50 264.49L264.50 274.27M264.50 264.49L258.19 264.49M264.50 264.49L270.81 264.49" stroke="#e00000" stroke-width="1.38" fill="none"/><circle cx="253.71" cy="188.93" r="2.39" fill="url(#gO)" stroke="#7a7a7a" stroke-width="0.55"/><circle cx="275.29" cy="188.93" r="2.39" fill="url(#gO)" stroke="#7a7a7a" stroke-width="0.55"/><circle cx="240.68" cy="207.10" r="2.39" fill="url(#gO)" stroke="#7a7a7a" stroke-width="0.55"/><circle cx="264.50" cy="207.10" r="2.39" fill="url(#gO)" stroke="#7a7a7a" stroke-width="0.55"/><circle cx="288.32" cy="207.10" r="2.39" fill="url(#gO)" stroke="#7a7a7a" stroke-width="0.55"/><circle cx="240.68" cy="245.36" r="2.39" fill="url(#gO)" stroke="#7a7a7a" stroke-width="0.55"/><circle cx="288.32" cy="245.36" r="2.39" fill="url(#gO)" stroke="#7a7a7a" stroke-width="0.55"/><circle cx="264.50" cy="282.28" r="2.39" fill="url(#gO)" stroke="#7a7a7a" stroke-width="0.55"/><circle cx="229.21" cy="226.23" r="2.39" fill="url(#gO)" stroke="#7a7a7a" stroke-width="0.55"/><circle cx="252.16" cy="226.23" r="2.39" fill="url(#gO)" stroke="#7a7a7a" stroke-width="0.55"/><circle cx="276.84" cy="226.23" r="2.39" fill="url(#gO)" stroke="#7a7a7a" stroke-width="0.55"/><circle cx="299.79" cy="226.23" r="2.39" fill="url(#gO)" stroke="#7a7a7a" stroke-width="0.55"/><circle cx="253.02" cy="264.49" r="2.39" fill="url(#gO)" stroke="#7a7a7a" stroke-width="0.55"/><circle cx="275.98" cy="264.49" r="2.39" fill="url(#gO)" stroke="#7a7a7a" stroke-width="0.55"/><circle cx="264.50" cy="245.36" r="2.27" fill="#e0e0e0" stroke="#202020" stroke-width="0.9"/><circle cx="252.64" cy="207.10" r="4.44" fill="url(#gMn)"/><circle cx="276.36" cy="207.10" r="4.44" fill="url(#gMn)"/><circle cx="240.68" cy="226.23" r="4.44" fill="url(#gMn)"/><circle cx="288.32" cy="226.23" r="4.44" fill="url(#gMn)"/><circle cx="252.64" cy="245.36" r="4.44" fill="url(#gMn)"/><circle cx="276.36" cy="245.36" r="4.44" fill="url(#gMn)"/><circle cx="264.50" cy="264.49" r="4.44" fill="url(#gMn)"/><path d="M250.44 246.16l0.7 -1.8 0.7 1.2 0.7 -1.2 0.7 1.8M253.04 246.16v-1.4h1.6v1.4" stroke="#300000" stroke-width="0.6" fill="none"/><circle cx="264.50" cy="216.47" r="4.44" fill="url(#gZd)" stroke="#0e6070" stroke-width="0.5"/><path d="M262.90 215.47h1.6l-1.6 2h1.6M265.10 217.47v-1.2h1.2v1.2" stroke="#102020" stroke-width="0.6" fill="none"/><circle cx="240.68" cy="254.73" r="4.44" fill="url(#gZn)" stroke="#3a98a8" stroke-width="0.5"/><circle cx="288.32" cy="254.73" r="4.44" fill="url(#gZn)" stroke="#3a98a8" stroke-width="0.5"/></g>
<g><path d="M329.73 195.74H373.07M329.73 195.74V263.86H373.07V195.74" fill="none" stroke="#707070" stroke-width="0.9"/><path d="M341.43 195.11L341.85 187.83M335.32 204.00L329.73 204.00M346.15 204.00L351.40 204.00M340.48 212.60L340.05 221.20M361.37 195.11L360.95 187.83M367.48 204.00L373.07 204.00M356.65 204.00L351.40 204.00M362.32 212.60L362.75 221.20M329.73 212.60L329.73 204.00M329.73 229.80L329.73 238.40M324.05 221.20L319.41 221.20M335.40 221.20L340.05 221.20M373.07 212.60L373.07 204.00M373.07 229.80L373.07 238.40M367.40 221.20L362.75 221.20M378.75 221.20L383.39 221.20M335.32 238.40L329.73 238.40M346.15 238.40L351.40 238.40M340.48 229.80L340.05 221.20M340.99 247.00L341.08 255.60M367.48 238.40L373.07 238.40M356.65 238.40L351.40 238.40M362.32 229.80L362.75 221.20M361.81 247.00L361.72 255.60M351.40 247.00L351.40 238.40M351.40 264.68L351.40 272.11M345.72 255.60L341.08 255.60M357.08 255.60L361.72 255.60" stroke="#d4dee2" stroke-width="1.01" fill="none"/><path d="M340.91 204.00L341.43 195.11M340.91 204.00L335.32 204.00M340.91 204.00L346.15 204.00M340.91 204.00L340.48 212.60M361.89 204.00L361.37 195.11M361.89 204.00L367.48 204.00M361.89 204.00L356.65 204.00M361.89 204.00L362.32 212.60M329.73 221.20L329.73 212.60M329.73 221.20L329.73 229.80M329.73 221.20L324.05 221.20M329.73 221.20L335.40 221.20M373.07 221.20L373.07 212.60M373.07 221.20L373.07 229.80M373.07 221.20L367.40 221.20M373.07 221.20L378.75 221.20M340.91 238.40L335.32 238.40M340.91 238.40L346.15 238.40M340.91 238.40L340.48 229.80M340.91 238.40L340.99 247.00M361.89 238.40L367.48 238.40M361.89 238.40L356.65 238.40M361.89 238.40L362.32 229.80M361.89 238.40L361.81 247.00M351.40 255.60L351.40 247.00M351.40 255.60L351.40 264.68M351.40 255.60L345.72 255.60M351.40 255.60L357.08 255.60" stroke="#e00000" stroke-width="1.24" fill="none"/><circle cx="341.85" cy="187.83" r="2.15" fill="url(#gO)" stroke="#7a7a7a" stroke-width="0.55"/><circle cx="360.95" cy="187.83" r="2.15" fill="url(#gO)" stroke="#7a7a7a" stroke-width="0.55"/><circle cx="329.73" cy="204.00" r="2.15" fill="url(#gO)" stroke="#7a7a7a" stroke-width="0.55"/><circle cx="351.40" cy="204.00" r="2.15" fill="url(#gO)" stroke="#7a7a7a" stroke-width="0.55"/><circle cx="373.07" cy="204.00" r="2.15" fill="url(#gO)" stroke="#7a7a7a" stroke-width="0.55"/><circle cx="329.73" cy="238.40" r="2.15" fill="url(#gO)" stroke="#7a7a7a" stroke-width="0.55"/><circle cx="373.07" cy="238.40" r="2.15" fill="url(#gO)" stroke="#7a7a7a" stroke-width="0.55"/><circle cx="351.40" cy="272.11" r="2.15" fill="url(#gO)" stroke="#7a7a7a" stroke-width="0.55"/><circle cx="319.41" cy="221.20" r="2.15" fill="url(#gO)" stroke="#7a7a7a" stroke-width="0.55"/><circle cx="340.05" cy="221.20" r="2.15" fill="url(#gO)" stroke="#7a7a7a" stroke-width="0.55"/><circle cx="362.75" cy="221.20" r="2.15" fill="url(#gO)" stroke="#7a7a7a" stroke-width="0.55"/><circle cx="383.39" cy="221.20" r="2.15" fill="url(#gO)" stroke="#7a7a7a" stroke-width="0.55"/><circle cx="341.08" cy="255.60" r="2.15" fill="url(#gO)" stroke="#7a7a7a" stroke-width="0.55"/><circle cx="361.72" cy="255.60" r="2.15" fill="url(#gO)" stroke="#7a7a7a" stroke-width="0.55"/><circle cx="351.40" cy="238.40" r="2.04" fill="#e0e0e0" stroke="#202020" stroke-width="0.9"/><circle cx="340.91" cy="204.00" r="3.99" fill="url(#gMn)"/><circle cx="361.89" cy="204.00" r="3.99" fill="url(#gMn)"/><circle cx="329.73" cy="221.20" r="3.99" fill="url(#gMn)"/><circle cx="373.07" cy="221.20" r="3.99" fill="url(#gMn)"/><circle cx="340.91" cy="238.40" r="3.99" fill="url(#gMn)"/><circle cx="361.89" cy="238.40" r="3.99" fill="url(#gMn)"/><circle cx="351.40" cy="255.60" r="3.99" fill="url(#gMn)"/><path d="M338.71 239.20l0.7 -1.8 0.7 1.2 0.7 -1.2 0.7 1.8M341.31 239.20v-1.4h1.6v1.4" stroke="#300000" stroke-width="0.6" fill="none"/><circle cx="351.40" cy="212.77" r="3.99" fill="url(#gZn)" stroke="#3a98a8" stroke-width="0.5"/><circle cx="351.40" cy="229.63" r="3.99" fill="url(#gZd)" stroke="#2a8898" stroke-width="0.5"/><path d="M349.80 228.63h1.6l-1.6 2h1.6M352.00 230.63v-1.2h1.2v1.2" stroke="#102020" stroke-width="0.6" fill="none"/><circle cx="329.73" cy="247.34" r="3.99" fill="url(#gZn)" stroke="#3a98a8" stroke-width="0.5"/><circle cx="373.07" cy="247.34" r="3.99" fill="url(#gZn)" stroke="#3a98a8" stroke-width="0.5"/></g>
<g><path d="M419.30 207.84H459.30M419.30 207.84V272.48H459.30V207.84" fill="none" stroke="#a8a8a8" stroke-width="0.9"/><path d="M429.72 207.73L430.13 200.96M424.26 216.00L419.30 216.00M434.26 216.00L439.30 216.00M428.66 224.00L428.10 232.00M448.88 207.73L448.47 200.96M454.34 216.00L459.30 216.00M444.34 216.00L439.30 216.00M449.94 224.00L450.50 232.00M419.30 224.00L419.30 216.00M419.30 240.00L419.30 248.00M414.46 232.00L410.50 232.00M424.14 232.00L428.10 232.00M459.30 224.00L459.30 216.00M459.30 240.00L459.30 248.00M454.46 232.00L450.50 232.00M464.14 232.00L468.10 232.00M424.26 248.00L419.30 248.00M434.26 248.00L439.30 248.00M428.66 240.00L428.10 232.00M429.86 256.00L430.50 264.00M454.34 248.00L459.30 248.00M444.34 248.00L439.30 248.00M449.94 240.00L450.50 232.00M448.74 256.00L448.10 264.00M439.30 256.00L439.30 248.00M439.30 272.80L439.30 280.00M434.46 264.00L430.50 264.00M444.14 264.00L448.10 264.00" stroke="#d4dee2" stroke-width="0.94" fill="none"/><path d="M429.22 216.00L429.72 207.73M429.22 216.00L424.26 216.00M429.22 216.00L434.26 216.00M429.22 216.00L428.66 224.00M449.38 216.00L448.88 207.73M449.38 216.00L454.34 216.00M449.38 216.00L444.34 216.00M449.38 216.00L449.94 224.00M419.30 232.00L419.30 224.00M419.30 232.00L419.30 240.00M419.30 232.00L414.46 232.00M419.30 232.00L424.14 232.00M459.30 232.00L459.30 224.00M459.30 232.00L459.30 240.00M459.30 232.00L454.46 232.00M459.30 232.00L464.14 232.00M429.22 248.00L424.26 248.00M429.22 248.00L434.26 248.00M429.22 248.00L428.66 240.00M429.22 248.00L429.86 256.00M449.38 248.00L454.34 248.00M449.38 248.00L444.34 248.00M449.38 248.00L449.94 240.00M449.38 248.00L448.74 256.00M439.30 264.00L439.30 256.00M439.30 264.00L439.30 272.80M439.30 264.00L434.46 264.00M439.30 264.00L444.14 264.00" stroke="#e00000" stroke-width="1.15" fill="none"/><circle cx="430.13" cy="200.96" r="2.00" fill="url(#gO)" stroke="#7a7a7a" stroke-width="0.55"/><circle cx="448.47" cy="200.96" r="2.00" fill="url(#gO)" stroke="#7a7a7a" stroke-width="0.55"/><circle cx="419.30" cy="216.00" r="2.00" fill="url(#gO)" stroke="#7a7a7a" stroke-width="0.55"/><circle cx="439.30" cy="216.00" r="2.00" fill="url(#gO)" stroke="#7a7a7a" stroke-width="0.55"/><circle cx="459.30" cy="216.00" r="2.00" fill="url(#gO)" stroke="#7a7a7a" stroke-width="0.55"/><circle cx="419.30" cy="248.00" r="2.00" fill="url(#gO)" stroke="#7a7a7a" stroke-width="0.55"/><circle cx="459.30" cy="248.00" r="2.00" fill="url(#gO)" stroke="#7a7a7a" stroke-width="0.55"/><circle cx="439.30" cy="280.00" r="2.00" fill="url(#gO)" stroke="#7a7a7a" stroke-width="0.55"/><circle cx="410.50" cy="232.00" r="2.00" fill="url(#gO)" stroke="#7a7a7a" stroke-width="0.55"/><circle cx="428.10" cy="232.00" r="2.00" fill="url(#gO)" stroke="#7a7a7a" stroke-width="0.55"/><circle cx="450.50" cy="232.00" r="2.00" fill="url(#gO)" stroke="#7a7a7a" stroke-width="0.55"/><circle cx="468.10" cy="232.00" r="2.00" fill="url(#gO)" stroke="#7a7a7a" stroke-width="0.55"/><circle cx="430.50" cy="264.00" r="2.00" fill="url(#gO)" stroke="#7a7a7a" stroke-width="0.55"/><circle cx="448.10" cy="264.00" r="2.00" fill="url(#gO)" stroke="#7a7a7a" stroke-width="0.55"/><circle cx="439.30" cy="248.00" r="1.90" fill="#e0e0e0" stroke="#202020" stroke-width="0.9"/><circle cx="429.22" cy="216.00" r="3.71" fill="url(#gMn)"/><circle cx="449.38" cy="216.00" r="3.71" fill="url(#gMn)"/><circle cx="419.30" cy="232.00" r="3.71" fill="url(#gMn)"/><circle cx="459.30" cy="232.00" r="3.71" fill="url(#gMn)"/><circle cx="429.22" cy="248.00" r="3.71" fill="url(#gMn)"/><circle cx="449.38" cy="248.00" r="3.71" fill="url(#gMn)"/><circle cx="439.30" cy="264.00" r="3.71" fill="url(#gMn)"/><path d="M427.02 248.80l0.7 -1.8 0.7 1.2 0.7 -1.2 0.7 1.8M429.62 248.80v-1.4h1.6v1.4" stroke="#300000" stroke-width="0.6" fill="none"/><circle cx="419.30" cy="207.84" r="3.71" fill="url(#gZn)" stroke="#3a98a8" stroke-width="0.5"/><circle cx="459.30" cy="207.84" r="3.71" fill="url(#gZn)" stroke="#3a98a8" stroke-width="0.5"/><circle cx="439.30" cy="224.16" r="3.71" fill="url(#gZn)" stroke="#3a98a8" stroke-width="0.5"/><circle cx="439.30" cy="240.32" r="3.71" fill="url(#gZd)" stroke="#2a8898" stroke-width="0.5"/><path d="M437.70 239.32h1.6l-1.6 2h1.6M439.90 241.32v-1.2h1.2v1.2" stroke="#102020" stroke-width="0.6" fill="none"/><circle cx="419.30" cy="256.64" r="3.71" fill="url(#gZn)" stroke="#3a98a8" stroke-width="0.5"/><circle cx="459.30" cy="256.64" r="3.71" fill="url(#gZn)" stroke="#3a98a8" stroke-width="0.5"/><circle cx="419.30" cy="272.48" r="3.71" fill="url(#gZn)" stroke="#3a98a8" stroke-width="0.5"/><circle cx="459.30" cy="272.48" r="3.71" fill="url(#gZn)" stroke="#3a98a8" stroke-width="0.5"/></g>
<line x1="54.0" y1="131.03" x2="472.8" y2="131.03" stroke="#c4c4c4" stroke-width="1.5"/>
<line x1="54.0" y1="131.03" x2="472.8" y2="131.03" stroke="#888" stroke-width="1.4" stroke-dasharray="5.5 1.3 1 1.3"/>
<line x1="54.0" y1="295.83" x2="472.8" y2="295.83" stroke="#c4c4c4" stroke-width="1.5"/>
<line x1="54.0" y1="295.83" x2="472.8" y2="295.83" stroke="#888" stroke-width="1.4" stroke-dasharray="5.5 1.3 1 1.3"/>
<rect x="54.0" y="6.2" width="418.80" height="149.80" fill="none" stroke="#333" stroke-width="1.3"/>
<path d="M88.90 6.20v5.5M88.90 156.00v-5.5M123.80 6.20v2.8M123.80 156.00v-2.8M158.70 6.20v5.5M158.70 156.00v-5.5M193.60 6.20v2.8M193.60 156.00v-2.8M228.50 6.20v5.5M228.50 156.00v-5.5M263.40 6.20v2.8M263.40 156.00v-2.8M298.30 6.20v5.5M298.30 156.00v-5.5M333.20 6.20v2.8M333.20 156.00v-2.8M368.10 6.20v5.5M368.10 156.00v-5.5M403.00 6.20v2.8M403.00 156.00v-2.8M437.90 6.20v5.5M437.90 156.00v-5.5M54.0 143.52h2.6M472.8 143.52h-2.6M54.0 131.03h2.6M472.8 131.03h-2.6M54.0 118.55h2.6M472.8 118.55h-2.6M54.0 106.07h2.6M472.8 106.07h-2.6M54.0 93.58h2.6M472.8 93.58h-2.6M54.0 81.10h2.6M472.8 81.10h-2.6M54.0 68.62h2.6M472.8 68.62h-2.6M54.0 56.13h2.6M472.8 56.13h-2.6M54.0 43.65h2.6M472.8 43.65h-2.6M54.0 31.17h2.6M472.8 31.17h-2.6M54.0 18.68h2.6M472.8 18.68h-2.6" stroke="#333" stroke-width="1.2" fill="none"/>
<rect x="54.0" y="171.0" width="418.80" height="149.80" fill="none" stroke="#333" stroke-width="1.3"/>
<path d="M88.90 171.00v5.5M88.90 320.80v-5.5M123.80 171.00v2.8M123.80 320.80v-2.8M158.70 171.00v5.5M158.70 320.80v-5.5M193.60 171.00v2.8M193.60 320.80v-2.8M228.50 171.00v5.5M228.50 320.80v-5.5M263.40 171.00v2.8M263.40 320.80v-2.8M298.30 171.00v5.5M298.30 320.80v-5.5M333.20 171.00v2.8M333.20 320.80v-2.8M368.10 171.00v5.5M368.10 320.80v-5.5M403.00 171.00v2.8M403.00 320.80v-2.8M437.90 171.00v5.5M437.90 320.80v-5.5M54.0 308.32h2.6M472.8 308.32h-2.6M54.0 295.83h2.6M472.8 295.83h-2.6M54.0 283.35h2.6M472.8 283.35h-2.6M54.0 270.87h2.6M472.8 270.87h-2.6M54.0 258.38h2.6M472.8 258.38h-2.6M54.0 245.90h2.6M472.8 245.90h-2.6M54.0 233.42h2.6M472.8 233.42h-2.6M54.0 220.93h2.6M472.8 220.93h-2.6M54.0 208.45h2.6M472.8 208.45h-2.6M54.0 195.97h2.6M472.8 195.97h-2.6M54.0 183.48h2.6M472.8 183.48h-2.6" stroke="#333" stroke-width="1.2" fill="none"/>
<rect x="84.60" y="126.73" width="8.6" height="8.6" fill="#000"/>
<rect x="171.85" y="120.50" width="8.6" height="8.6" fill="#000"/>
<rect x="259.10" y="128.00" width="8.6" height="8.6" fill="#0000ff"/>
<rect x="346.35" y="111.30" width="8.6" height="8.6" fill="#000"/>
<rect x="433.60" y="126.73" width="8.6" height="8.6" fill="#000"/>
<rect x="84.60" y="291.53" width="8.6" height="8.6" fill="#000"/>
<rect x="171.85" y="285.30" width="8.6" height="8.6" fill="#000"/>
<rect x="259.10" y="287.20" width="8.6" height="8.6" fill="#000"/>
<rect x="346.35" y="286.10" width="8.6" height="8.6" fill="#000"/>
<rect x="433.60" y="291.53" width="8.6" height="8.6" fill="#000"/>
<text transform="translate(47.40 10.80) scale(1 1.06)" font-family="Liberation Sans, sans-serif" font-size="13.4" text-anchor="end" fill="#000" stroke="#000" stroke-width="0.1">0.40</text>
<text transform="translate(47.40 35.77) scale(1 1.06)" font-family="Liberation Sans, sans-serif" font-size="13.4" text-anchor="end" fill="#000" stroke="#000" stroke-width="0.1">0.32</text>
<text transform="translate(47.40 60.73) scale(1 1.06)" font-family="Liberation Sans, sans-serif" font-size="13.4" text-anchor="end" fill="#000" stroke="#000" stroke-width="0.1">0.24</text>
<text transform="translate(47.40 85.70) scale(1 1.06)" font-family="Liberation Sans, sans-serif" font-size="13.4" text-anchor="end" fill="#000" stroke="#000" stroke-width="0.1">0.16</text>
<text transform="translate(47.40 110.67) scale(1 1.06)" font-family="Liberation Sans, sans-serif" font-size="13.4" text-anchor="end" fill="#000" stroke="#000" stroke-width="0.1">0.08</text>
<text transform="translate(47.40 135.63) scale(1 1.06)" font-family="Liberation Sans, sans-serif" font-size="13.4" text-anchor="end" fill="#000" stroke="#000" stroke-width="0.1">0.00</text>
<text transform="translate(47.40 160.60) scale(1 1.06)" font-family="Liberation Sans, sans-serif" font-size="13.4" text-anchor="end" fill="#000" stroke="#000" stroke-width="0.1">-0.08</text>
<text transform="translate(47.40 175.60) scale(1 1.06)" font-family="Liberation Sans, sans-serif" font-size="13.4" text-anchor="end" fill="#000" stroke="#000" stroke-width="0.1">4.0</text>
<text transform="translate(47.40 200.57) scale(1 1.06)" font-family="Liberation Sans, sans-serif" font-size="13.4" text-anchor="end" fill="#000" stroke="#000" stroke-width="0.1">3.2</text>
<text transform="translate(47.40 225.53) scale(1 1.06)" font-family="Liberation Sans, sans-serif" font-size="13.4" text-anchor="end" fill="#000" stroke="#000" stroke-width="0.1">2.4</text>
<text transform="translate(47.40 250.50) scale(1 1.06)" font-family="Liberation Sans, sans-serif" font-size="13.4" text-anchor="end" fill="#000" stroke="#000" stroke-width="0.1">1.6</text>
<text transform="translate(47.40 275.47) scale(1 1.06)" font-family="Liberation Sans, sans-serif" font-size="13.4" text-anchor="end" fill="#000" stroke="#000" stroke-width="0.1">0.8</text>
<text transform="translate(47.40 300.43) scale(1 1.06)" font-family="Liberation Sans, sans-serif" font-size="13.4" text-anchor="end" fill="#000" stroke="#000" stroke-width="0.1">0.0</text>
<text transform="translate(47.40 325.40) scale(1 1.06)" font-family="Liberation Sans, sans-serif" font-size="13.4" text-anchor="end" fill="#000" stroke="#000" stroke-width="0.1">-0.8</text>
<text transform="translate(89.10 337.60) scale(1 1.06)" font-family="Liberation Sans, sans-serif" font-size="13.4" text-anchor="middle" fill="#000" stroke="#000" stroke-width="0.1">0.0</text>
<text transform="translate(158.90 337.60) scale(1 1.06)" font-family="Liberation Sans, sans-serif" font-size="13.4" text-anchor="middle" fill="#000" stroke="#000" stroke-width="0.1">0.2</text>
<text transform="translate(228.70 337.60) scale(1 1.06)" font-family="Liberation Sans, sans-serif" font-size="13.4" text-anchor="middle" fill="#000" stroke="#000" stroke-width="0.1">0.4</text>
<text transform="translate(298.50 337.60) scale(1 1.06)" font-family="Liberation Sans, sans-serif" font-size="13.4" text-anchor="middle" fill="#000" stroke="#000" stroke-width="0.1">0.6</text>
<text transform="translate(368.30 337.60) scale(1 1.06)" font-family="Liberation Sans, sans-serif" font-size="13.4" text-anchor="middle" fill="#000" stroke="#000" stroke-width="0.1">0.8</text>
<text transform="translate(438.10 337.60) scale(1 1.06)" font-family="Liberation Sans, sans-serif" font-size="13.4" text-anchor="middle" fill="#000" stroke="#000" stroke-width="0.1">1.0</text>
<text transform="translate(263.6 355.8) scale(1 1.05)" font-family="Liberation Serif, serif" font-size="16.9" letter-spacing="0.12" text-anchor="middle" fill="#000">Li or Zn concentration</text>
<text transform="translate(12.6 0) rotate(-90) scale(1 1.02)" x="-245.4" y="0" font-family="Liberation Serif, serif" font-size="16.8" textLength="66.6" lengthAdjust="spacingAndGlyphs" fill="#000">Formation</text>
<text transform="translate(12.6 0) rotate(-90) scale(1 1.02)" x="-174.6" y="0" font-family="Liberation Serif, serif" font-size="16.8" textLength="44.2" lengthAdjust="spacingAndGlyphs" fill="#000">energy</text>
<text transform="translate(12.6 0) rotate(-90) scale(1 1.02)" x="-125.8" y="0" font-family="Liberation Serif, serif" font-size="16.8" textLength="57.0" lengthAdjust="spacingAndGlyphs" fill="#000">(eV/f.u)</text>
<text x="56.6" y="146.2" font-family="Liberation Serif, serif" font-size="12.6" fill="#000">TLMO</text>
<text x="56.6" y="313.2" font-family="Liberation Serif, serif" font-size="12.6" fill="#000">ZMO</text>
<text x="231.4" y="149.3" font-family="Liberation Sans, sans-serif" font-size="13" letter-spacing="-0.15" fill="#000">Li<tspan font-size="9.6" dy="3.6">0.5</tspan><tspan dy="-3.6">Mn</tspan><tspan font-size="9.6" dy="3.6">2</tspan><tspan dy="-3.6">O</tspan><tspan font-size="9.6" dy="3.6">4</tspan></text>
<text x="91.55" y="26.0" font-family="Liberation Sans, sans-serif" font-size="10" text-anchor="middle" fill="#111" stroke="#111" stroke-width="0.15">E = 0</text>
<text x="177.85" y="23.6" font-family="Liberation Sans, sans-serif" font-size="10" text-anchor="middle" fill="#111" stroke="#111" stroke-width="0.15">E = 0.019</text>
<text x="263.1" y="33.2" font-family="Liberation Sans, sans-serif" font-size="10" text-anchor="middle" fill="#1010f0" stroke="#1010f0" stroke-width="0.15">E = - 0.004</text>
<text x="350.8" y="23.4" font-family="Liberation Sans, sans-serif" font-size="10" text-anchor="middle" fill="#111" stroke="#111" stroke-width="0.15">E = 0.049</text>
<text x="437.15" y="24.9" font-family="Liberation Sans, sans-serif" font-size="10" text-anchor="middle" fill="#111" stroke="#111" stroke-width="0.15">E = 0</text>
<text x="90.35" y="190.3" font-family="Liberation Sans, sans-serif" font-size="10" text-anchor="middle" fill="#111" stroke="#111" stroke-width="0.15">E = 0</text>
<text x="178.25" y="186.4" font-family="Liberation Sans, sans-serif" font-size="10" text-anchor="middle" fill="#111" stroke="#111" stroke-width="0.15">E = 0.199</text>
<text x="265.3" y="183.4" font-family="Liberation Sans, sans-serif" font-size="10" text-anchor="middle" fill="#111" stroke="#111" stroke-width="0.15">E = 0.137</text>
<text x="351.6" y="184.3" font-family="Liberation Sans, sans-serif" font-size="10" text-anchor="middle" fill="#111" stroke="#111" stroke-width="0.15">E = 0.345</text>
<text x="440.25" y="193.7" font-family="Liberation Sans, sans-serif" font-size="10" text-anchor="middle" fill="#111" stroke="#111" stroke-width="0.15">E = 0</text>
</svg></body></html>
